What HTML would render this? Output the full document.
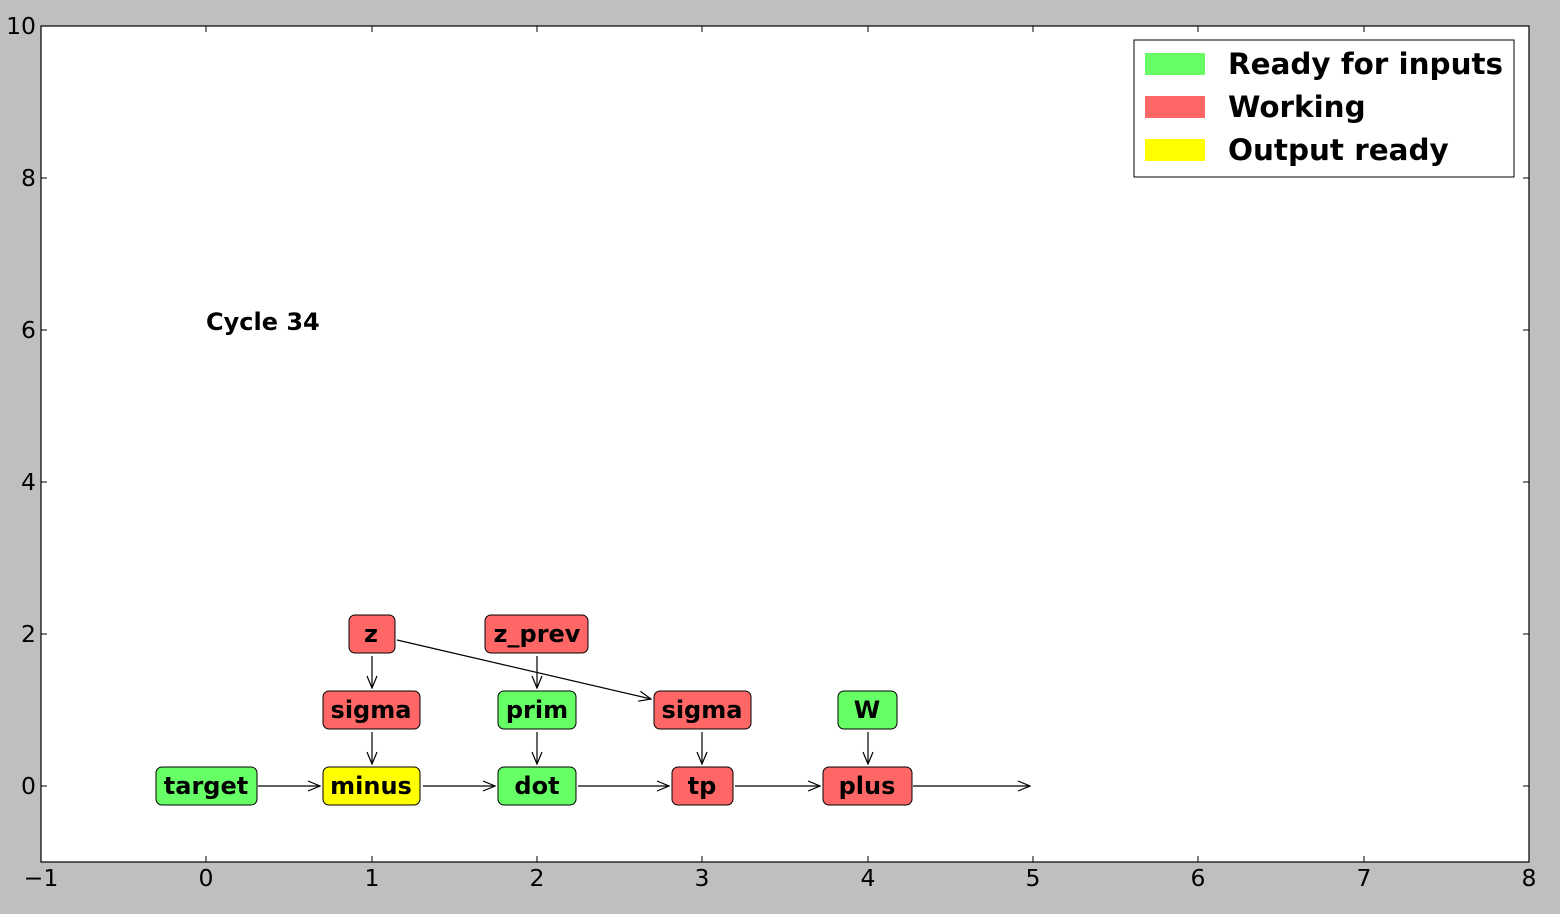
<!DOCTYPE html>
<html><head><style>body{margin:0;background:#bfbfbf}svg{display:block}</style></head><body>
<svg width="1560" height="914" xmlns="http://www.w3.org/2000/svg" font-family="DejaVu Sans, Liberation Sans, sans-serif">
<defs><marker id="a" markerWidth="14" markerHeight="12" refX="13" refY="6" orient="auto" markerUnits="userSpaceOnUse"><path d="M1,1 L13,6 L1,11" fill="none" stroke="#000" stroke-width="1.2"/></marker></defs>
<rect x="0" y="0" width="1560" height="914" fill="#bfbfbf"/>
<rect x="41" y="26" width="1488" height="836" fill="#fff" stroke="#000" stroke-width="1.2"/>
<g stroke="#000" stroke-width="1">
<line x1="41" y1="862" x2="41" y2="856"/><line x1="41" y1="26" x2="41" y2="32"/>
<line x1="206" y1="862" x2="206" y2="856"/><line x1="206" y1="26" x2="206" y2="32"/>
<line x1="372" y1="862" x2="372" y2="856"/><line x1="372" y1="26" x2="372" y2="32"/>
<line x1="537" y1="862" x2="537" y2="856"/><line x1="537" y1="26" x2="537" y2="32"/>
<line x1="702" y1="862" x2="702" y2="856"/><line x1="702" y1="26" x2="702" y2="32"/>
<line x1="868" y1="862" x2="868" y2="856"/><line x1="868" y1="26" x2="868" y2="32"/>
<line x1="1033" y1="862" x2="1033" y2="856"/><line x1="1033" y1="26" x2="1033" y2="32"/>
<line x1="1198" y1="862" x2="1198" y2="856"/><line x1="1198" y1="26" x2="1198" y2="32"/>
<line x1="1364" y1="862" x2="1364" y2="856"/><line x1="1364" y1="26" x2="1364" y2="32"/>
<line x1="41" y1="786" x2="47" y2="786"/><line x1="1529" y1="786" x2="1523" y2="786"/>
<line x1="41" y1="634" x2="47" y2="634"/><line x1="1529" y1="634" x2="1523" y2="634"/>
<line x1="41" y1="482" x2="47" y2="482"/><line x1="1529" y1="482" x2="1523" y2="482"/>
<line x1="41" y1="330" x2="47" y2="330"/><line x1="1529" y1="330" x2="1523" y2="330"/>
<line x1="41" y1="178" x2="47" y2="178"/><line x1="1529" y1="178" x2="1523" y2="178"/>
</g>
<g font-size="23.5" text-anchor="middle">
<text x="41" y="886">−1</text><text x="206" y="886">0</text><text x="372" y="886">1</text><text x="537" y="886">2</text><text x="702" y="886">3</text><text x="868" y="886">4</text><text x="1033" y="886">5</text><text x="1198" y="886">6</text><text x="1364" y="886">7</text><text x="1529" y="886">8</text>
</g>
<g font-size="23.5" text-anchor="end">
<text x="36" y="794">0</text><text x="36" y="642">2</text><text x="36" y="490">4</text><text x="36" y="338">6</text><text x="36" y="186">8</text><text x="36" y="34">10</text>
</g>
<text x="206" y="330" font-size="24" font-weight="bold">Cycle 34</text>
<g stroke="#000" stroke-width="1.2" marker-end="url(#a)">
<line x1="258" y1="786" x2="320" y2="786"/><line x1="423" y1="786" x2="495" y2="786"/>
<line x1="578" y1="786" x2="669" y2="786"/><line x1="735" y1="786" x2="820" y2="786"/>
<line x1="913" y1="786" x2="1030" y2="786"/>
<line x1="372" y1="656" x2="372" y2="688"/><line x1="537" y1="656" x2="537" y2="688"/>
<line x1="372" y1="732" x2="372" y2="764"/><line x1="537" y1="732" x2="537" y2="764"/>
<line x1="702" y1="732" x2="702" y2="764"/><line x1="868" y1="732" x2="868" y2="764"/>
<line x1="397" y1="640" x2="651" y2="699"/>
</g>
<g stroke="#000" stroke-width="1">
<rect x="156" y="767" width="101" height="38" rx="6" fill="#66ff66"/>
<rect x="323" y="767" width="97" height="38" rx="6" fill="#ffff00"/>
<rect x="498" y="767" width="78" height="38" rx="6" fill="#66ff66"/>
<rect x="672" y="767" width="61" height="38" rx="6" fill="#ff6666"/>
<rect x="823" y="767" width="89" height="38" rx="6" fill="#ff6666"/>
<rect x="323" y="691" width="97" height="38" rx="6" fill="#ff6666"/>
<rect x="498" y="691" width="78" height="38" rx="6" fill="#66ff66"/>
<rect x="654" y="691" width="97" height="38" rx="6" fill="#ff6666"/>
<rect x="838" y="691" width="59" height="38" rx="6" fill="#66ff66"/>
<rect x="349" y="615" width="46" height="38" rx="6" fill="#ff6666"/>
<rect x="485" y="615" width="103" height="38" rx="6" fill="#ff6666"/>
</g>
<g font-size="24" font-weight="bold" text-anchor="middle" fill="#000">
<text x="206" y="794">target</text><text x="371" y="794">minus</text><text x="537" y="794">dot</text><text x="702" y="794">tp</text><text x="867" y="794">plus</text>
<text x="371" y="718">sigma</text><text x="537" y="718">prim</text><text x="702" y="718">sigma</text><text x="867" y="718">W</text>
<text x="371" y="642">z</text><text x="537" y="642">z_prev</text>
</g>
<rect x="1134" y="40" width="380" height="137" fill="#fff" stroke="#000" stroke-width="1"/>
<rect x="1145" y="53" width="60" height="22" fill="#66ff66"/>
<rect x="1145" y="96" width="60" height="22" fill="#ff6666"/>
<rect x="1145" y="139" width="60" height="22" fill="#ffff00"/>
<g font-size="29.4" font-weight="bold">
<text x="1228" y="74">Ready for inputs</text><text x="1228" y="117">Working</text><text x="1228" y="160">Output ready</text>
</g>
</svg>
</body></html>
